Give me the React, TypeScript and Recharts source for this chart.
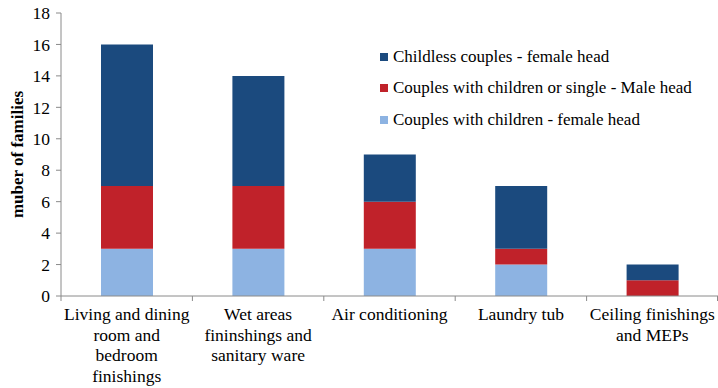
import React from "react";
import { BarChart, Bar, XAxis, YAxis } from "recharts";

const categories = [
  "Living and dining\nroom and\nbedroom\nfinishings",
  "Wet areas\nfininshings and\nsanitary ware",
  "Air conditioning",
  "Laundry tub",
  "Ceiling finishings\nand MEPs",
];

const femaleHeadWithChildren = [3, 3, 3, 2, 0];
const maleHeadOrSingle = [4, 4, 3, 1, 1];
const childlessFemaleHead = [9, 7, 3, 4, 1];

const yTicks = [0, 2, 4, 6, 8, 10, 12, 14, 16, 18];

const seriesNames = {
  light: "Couples with children - female head",
  red: "Couples with children or single - Male head",
  dark: "Childless couples - female head",
};

const COLORS = { light: "#8DB3E2", red: "#C0222A", dark: "#1B4A7E" };
const FONT = "Liberation Serif, Times New Roman, Times, DejaVu Serif, serif";
const AXIS = "#8A8A8A";

const WIDTH = 718;
const HEIGHT = 388;
const MARGIN = { top: 13, right: 0, left: 0, bottom: 0 };
const X_AXIS_H = 92;
const Y_AXIS_W = 61;
const BAND = (WIDTH - MARGIN.left - MARGIN.right - Y_AXIS_W) / categories.length;

const data = categories.map((name, i) => ({
  name,
  light: femaleHeadWithChildren[i],
  red: maleHeadOrSingle[i],
  dark: childlessFemaleHead[i],
}));

// Category labels wrapped on several lines, with tick marks drawn on the band boundaries
const CategoryTick = (props: any) => {
  const { x, y, payload, index } = props;
  const lines = String(payload.value).split("\n");
  const isLast = index === categories.length - 1;
  return (
    <g>
      <line x1={x - BAND / 2} x2={x - BAND / 2} y1={y} y2={y + 5} stroke={AXIS} />
      {isLast && (
        <line x1={x + BAND / 2 - 0.5} x2={x + BAND / 2 - 0.5} y1={y} y2={y + 5} stroke={AXIS} />
      )}
      <text textAnchor="middle" style={{ fontFamily: FONT }} fontSize={17.5} fill="#000">
        {lines.map((l, i) => (
          <tspan key={i} x={x} y={y + 24 + i * 20.5}>
            {l}
          </tspan>
        ))}
      </text>
    </g>
  );
};

const legendRows = [
  { key: "dark", label: seriesNames.dark, color: COLORS.dark },
  { key: "red", label: seriesNames.red, color: COLORS.red },
  { key: "light", label: seriesNames.light, color: COLORS.light },
];

const LegendBox = () => (
  <div
    style={{
      position: "absolute",
      left: 380,
      top: 41,
      fontFamily: FONT,
      fontSize: 17,
      color: "#000",
    }}
  >
    {legendRows.map((r) => (
      <div key={r.key} style={{ display: "flex", alignItems: "center", height: 31.5, whiteSpace: "nowrap" }}>
        <span
          style={{ display: "inline-block", width: 8, height: 8, background: r.color, marginRight: 5 }}
        />
        <span>{r.label}</span>
      </div>
    ))}
  </div>
);

export default function App() {
  return (
    <div style={{ position: "absolute", left: 0, top: 0, width: WIDTH, height: HEIGHT, background: "#fff" }}>
      <BarChart width={WIDTH} height={HEIGHT} data={data} margin={MARGIN}>
        <XAxis
          dataKey="name"
          height={X_AXIS_H}
          interval={0}
          tickLine={false}
          tickSize={0}
          tickMargin={0}
          axisLine={{ stroke: AXIS }}
          tick={<CategoryTick />}
        />
        <YAxis
          width={Y_AXIS_W}
          domain={[0, 18]}
          ticks={yTicks}
          interval={0}
          axisLine={{ stroke: AXIS }}
          tickLine={{ stroke: AXIS }}
          tickSize={5}
          tickMargin={6}
          tick={{ fontFamily: FONT, fontSize: 17.5, fill: "#000", style: { fontFamily: FONT } }}
          label={{
            value: "muber of families",
            angle: -90,
            position: "insideLeft",
            offset: 17,
            style: { fontFamily: FONT, fontSize: 17, fontWeight: "bold", fill: "#000", textAnchor: "middle" },
          }}
        />
        <Bar dataKey="light" name={seriesNames.light} stackId="a" fill={COLORS.light} barSize={52} isAnimationActive={false} />
        <Bar dataKey="red" name={seriesNames.red} stackId="a" fill={COLORS.red} barSize={52} isAnimationActive={false} />
        <Bar dataKey="dark" name={seriesNames.dark} stackId="a" fill={COLORS.dark} barSize={52} isAnimationActive={false} />
      </BarChart>
      <LegendBox />
    </div>
  );
}
